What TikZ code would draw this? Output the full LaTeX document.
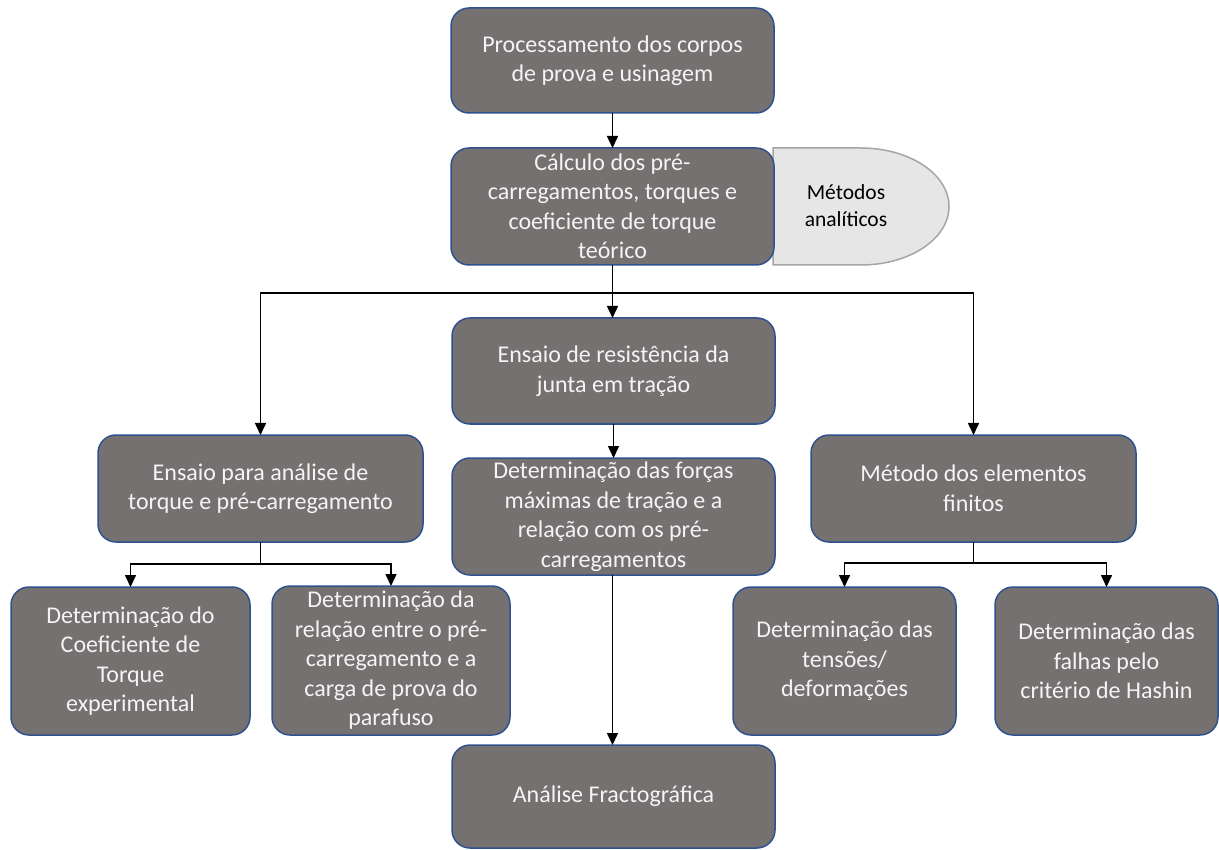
\documentclass[tikz,border=0pt]{standalone}
\usepackage{fontspec}
\setmainfont{Carlito}
\usetikzlibrary{arrows.meta,calc}
\definecolor{boxfill}{HTML}{767171}
\definecolor{boxline}{HTML}{2F528F}
\definecolor{sidefill}{HTML}{E7E6E6}
\definecolor{sideline}{HTML}{A5A5A5}
\definecolor{boxtext}{HTML}{F4F4F4}
\begin{document}
\begin{tikzpicture}[x=1pt,y=-1pt,
  box/.style={draw=boxline, fill=boxfill, line width=1.5pt, rounded corners=18pt,
    text=boxtext, align=center, inner sep=0pt, outer sep=0pt,
    font=\fontsize{24}{29.5}\selectfont},
  arr/.style={draw=black, line width=1.6pt, -{Triangle[width=11pt,length=12pt]}},
  ln/.style={draw=black, line width=1.6pt}]
\useasboundingbox (0,0) rectangle (1219,850);

% side shape (Métodos analíticos)
\draw[fill=sidefill, draw=sideline, line width=1.5pt]
  (773,148) -- (861,148) arc[start angle=-90, end angle=90, x radius=88, y radius=58.5] -- (773,265) -- cycle;
\node[text=black, align=center, font=\fontsize{21.5}{27}\selectfont] (side) at (846,206) {Métodos\\analíticos};

\node[box, minimum width=323, minimum height=105] (p1) at (612.5,60.5)
  {Processamento dos corpos\\de prova e usinagem};
\node[box, minimum width=323, minimum height=117] (p2) at (612.5,206.5)
  {Cálculo dos pré-\\carregamentos, torques e\\coeficiente de torque\\teórico};
\node[box, minimum width=323, minimum height=106] (p3) at (613.5,371)
  {Ensaio de resistência da\\junta em tração};
\node[box, minimum width=325, minimum height=107] (p4) at (260.5,488.5)
  {Ensaio para análise de\\torque e pré-carregamento};
\node[box, minimum width=323, minimum height=117] (p5) at (613.5,516.5)
  {Determinação das forças\\máximas de tração e a\\relação com os pré-\\carregamentos};
\node[box, minimum width=325, minimum height=107] (p6) at (973.5,488.5)
  {Método dos elementos\\finitos};
\node[box, minimum width=239, minimum height=148] (p7) at (130.5,661)
  {Determinação do\\Coeficiente de\\Torque\\experimental};
\node[box, minimum width=238, minimum height=149] (p8) at (391,660.5)
  {Determinação da\\relação entre o pré-\\carregamento e a\\carga de prova do\\parafuso};
\node[box, minimum width=223, minimum height=148] (p9) at (844.5,661)
  {Determinação das\\tensões/\\deformações};
\node[box, minimum width=223, minimum height=148] (p10) at (1106.5,661)
  {Determinação das\\falhas pelo\\critério de Hashin};
\node[box, minimum width=323, minimum height=103] (p11) at (613.5,796.5)
  {Análise Fractográfica};

% connectors
\draw[arr] (p1.south) -- (p2.north);
\coordinate (b1) at ($(p2.south)+(0,28)$);
\draw[ln] (p2.south) -- (b1);
\draw[arr] (b1) -| (p4.north);
\draw[arr] (b1) -| (p6.north);
\draw[arr] (p2.south) -- (p3.north -| p2.south);
\draw[arr] (p3.south) -- (p5.north);

\coordinate (b2) at ($(p4.south)+(0,22)$);
\draw[ln] (p4.south) -- (b2);
\draw[arr] (b2) -| (p7.north);
\draw[arr] (b2) -| (p8.north);

\coordinate (b3) at ($(p6.south)+(0,21)$);
\draw[ln] (p6.south) -- (b3);
\draw[arr] (b3) -| (p9.north);
\draw[arr] (b3) -| (p10.north);

\draw[arr] (p5.south -| p2.south) -- (p11.north -| p2.south);
\end{tikzpicture}
\end{document}
